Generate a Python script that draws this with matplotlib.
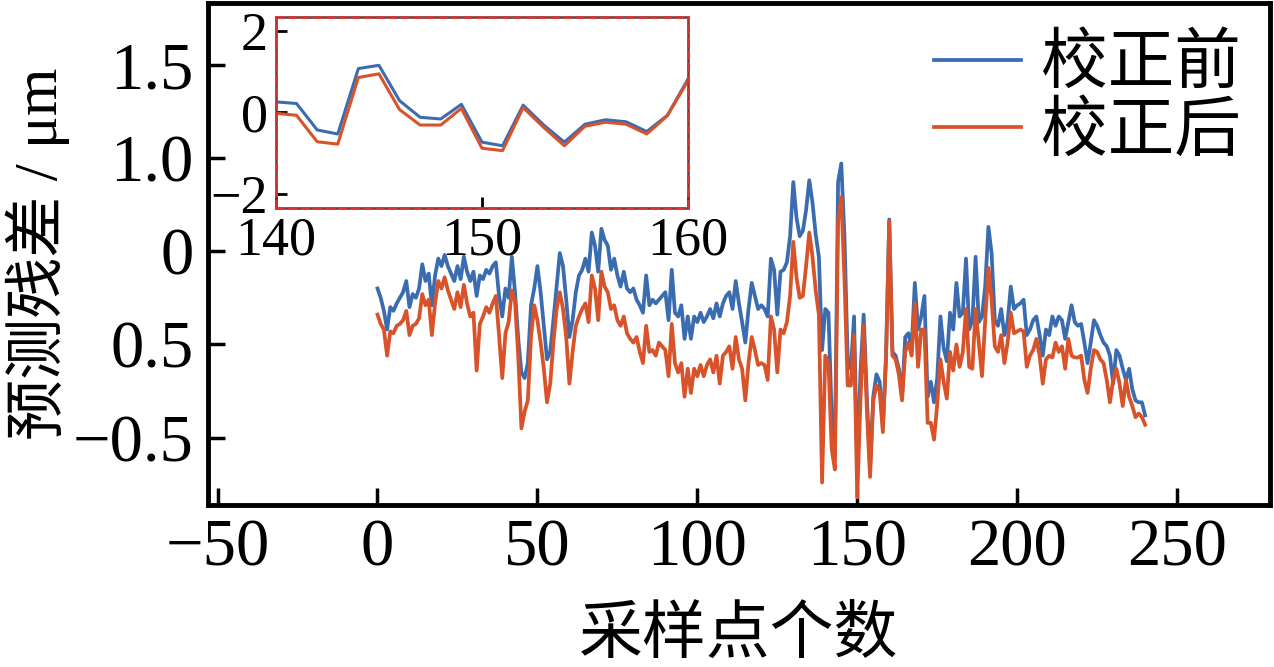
import numpy as np
import matplotlib
matplotlib.use("Agg")
from matplotlib import pyplot as plt
from matplotlib.patches import Rectangle

plt.rcParams['font.family'] = ['Liberation Serif', 'Noto Sans CJK SC', 'DejaVu Sans']
plt.rcParams['axes.unicode_minus'] = True

BLUE = '#3b6cb0'
ORANGE = '#d8522a'

# residuals, one value per sample (0..240)
before = [
    0.30, 0.25, 0.18, 0.08, 0.20, 0.18, 0.22, 0.25, 0.28, 0.34,
    0.20, 0.27, 0.25, 0.30, 0.43, 0.34, 0.38, 0.21, 0.37, 0.46,
    0.42, 0.48, 0.42, 0.38, 0.34, 0.42, 0.35, 0.47, 0.39, 0.34,
    0.39, 0.26, 0.37, 0.35, 0.40, 0.38, 0.42, 0.44, 0.26, 0.15,
    0.30, 0.25, 0.47, 0.28, 0.03, -0.15, -0.18, -0.10, 0.21, 0.30,
    0.42, 0.28, 0.10, -0.08, -0.04, 0.13, 0.31, 0.49, 0.42, 0.24,
    0.04, 0.13, 0.28, 0.37, 0.40, 0.46, 0.39, 0.60, 0.53, 0.39,
    0.62, 0.56, 0.53, 0.40, 0.46, 0.37, 0.31, 0.39, 0.30, 0.28,
    0.30, 0.24, 0.21, 0.17, 0.37, 0.21, 0.24, 0.22, 0.24, 0.26,
    0.28, 0.13, 0.40, 0.17, 0.15, 0.21, 0.03, 0.15, 0.03, 0.15,
    0.12, 0.17, 0.12, 0.15, 0.19, 0.14, 0.22, 0.15, 0.22, 0.26,
    0.28, 0.19, 0.34, 0.22, 0.12, 0.01, 0.19, 0.33, 0.26, 0.19,
    0.21, 0.19, 0.15, 0.46, 0.40, 0.16, 0.39, 0.40, 0.44, 0.58,
    0.87, 0.68, 0.58, 0.61, 0.72, 0.88, 0.76, 0.59, 0.47, -0.03,
    0.19, 0.17, -0.38, -0.60, 0.87, 0.97, 0.58, -0.08, -0.13, 0.15,
    -0.70, -0.15, 0.16, -0.28, -0.67, -0.28, -0.16, -0.20, -0.44, -0.06,
    0.67, -0.04, -0.06, -0.13, -0.28, 0.04, 0.06, -0.02, 0.33, 0.08,
    0.15, 0.26, -0.28, -0.20, -0.31, -0.18, 0.15, -0.02, -0.09, 0.17,
    0.08, 0.33, 0.15, 0.17, 0.46, 0.08, 0.13, 0.47, 0.12, 0.15,
    0.31, 0.63, 0.49, 0.13, 0.10, 0.19, 0.05, 0.12, 0.31, 0.19,
    0.21, 0.22, 0.24, 0.05, 0.08, 0.13, 0.15, 0.05, -0.06, 0.08,
    0.05, 0.15, 0.10, 0.15, 0.13, 0.03, 0.12, 0.21, 0.12, 0.10,
    0.11, 0.01, -0.10, 0.01, 0.13, 0.10, 0.05, 0.01, -0.01, -0.06,
    -0.21, -0.03, -0.06, -0.13, -0.19, -0.13, -0.24, -0.30, -0.31, -0.31,
    -0.38,
]
after = [
    0.16, 0.11, 0.08, -0.06, 0.07, 0.06, 0.10, 0.11, 0.13, 0.18,
    0.05, 0.10, 0.11, 0.14, 0.27, 0.21, 0.24, 0.05, 0.22, 0.34,
    0.30, 0.36, 0.29, 0.24, 0.19, 0.28, 0.20, 0.32, 0.22, 0.15,
    0.17, -0.14, 0.11, 0.15, 0.20, 0.17, 0.22, 0.26, 0.05, -0.18,
    0.06, 0.12, 0.29, 0.23, -0.06, -0.45, -0.36, -0.30, 0.04, 0.21,
    0.13, 0.01, -0.13, -0.31, -0.21, 0.01, 0.19, 0.28, 0.19, 0.04,
    -0.21, -0.04, 0.10, 0.15, 0.19, 0.22, 0.12, 0.37, 0.30, 0.13,
    0.39, 0.31, 0.28, 0.19, 0.21, 0.13, 0.10, 0.15, 0.06, 0.03,
    0.01, 0.04, -0.04, -0.10, 0.10, -0.04, -0.03, -0.06, 0.01, -0.01,
    -0.03, -0.17, 0.11, -0.10, -0.15, -0.10, -0.28, -0.13, -0.26, -0.13,
    -0.17, -0.11, -0.17, -0.11, -0.08, -0.15, -0.06, -0.21, -0.06, -0.04,
    -0.01, -0.13, 0.04, -0.08, -0.13, -0.30, -0.10, 0.04, -0.03, -0.11,
    -0.10, -0.11, -0.19, 0.15, 0.08, -0.15, 0.08, 0.06, 0.12, 0.26,
    0.55, 0.36, 0.25, 0.26, 0.42, 0.60, 0.47, 0.29, 0.16, -0.74,
    -0.06, -0.10, -0.56, -0.67, 0.66, 0.79, 0.35, -0.22, -0.22, 0.05,
    -0.82, -0.30, 0.10, -0.35, -0.71, -0.30, -0.22, -0.25, -0.47, -0.07,
    0.66, -0.06, -0.08, -0.16, -0.30, -0.04, 0.01, -0.06, 0.22, -0.12,
    0.08, 0.08, -0.42, -0.42, -0.51, -0.32, -0.08, -0.20, -0.29, -0.04,
    -0.14, 0.00, -0.12, -0.04, 0.19, -0.12, -0.13, 0.19, 0.01, -0.17,
    0.13, 0.41, 0.24, -0.01, -0.04, 0.05, -0.10, 0.01, 0.17, 0.06,
    0.07, 0.08, 0.07, -0.12, -0.06, -0.03, 0.03, -0.06, -0.21, -0.08,
    -0.06, -0.07, 0.01, -0.04, -0.01, -0.13, 0.03, -0.06, -0.07, -0.07,
    -0.06, -0.19, -0.26, -0.13, -0.03, -0.04, -0.08, -0.10, -0.19, -0.31,
    -0.19, -0.13, -0.21, -0.33, -0.19, -0.28, -0.33, -0.39, -0.37, -0.39,
    -0.43,
]
samples = np.arange(len(before))

# zoomed window 140..160
inset_x = np.arange(140, 161)
inset_before = [0.26, 0.22, -0.43, -0.53, 1.08, 1.16, 0.29, -0.12, -0.16, 0.20,
                -0.73, -0.82, 0.18, -0.31, -0.73, -0.29, -0.18, -0.23, -0.47, -0.07, 0.82]
inset_after = [-0.02, -0.07, -0.72, -0.78, 0.86, 0.95, 0.07, -0.31, -0.31, 0.10,
               -0.88, -0.94, 0.12, -0.37, -0.82, -0.34, -0.24, -0.29, -0.53, -0.08, 0.78]

xticks = [-50, 0, 50, 100, 150, 200, 250]
yticks = [1.5, 1.0, 0.5, 0.0, -0.5]
ytick_labels = ['1.5', '1.0', '0', '0.5', '\u22120.5']
inset_xticks = [140, 150, 160]
inset_yticks = [-2, 0, 2]

fig = plt.figure(figsize=(12.74, 6.67), dpi=100)
ax = fig.add_axes([0.163, 0.243, 0.834, 0.7525])
ax.plot(samples, before, color=BLUE, lw=2.7, label='校正前')
ax.plot(samples, after, color=ORANGE, lw=2.7, label='校正后')
ax.set_xlim(-53.1, 279.1)
ax.set_ylim(-0.86, 1.83)
ax.set_xticks(xticks)
ax.set_yticks(yticks)
ax.set_yticklabels(ytick_labels)
ax.tick_params(direction='in', length=12, width=2.5, labelsize=48)
ax.tick_params(axis='x', pad=10)
ax.tick_params(axis='y', pad=10)
for s in ax.spines.values():
    s.set_linewidth(3.5)
ax.set_xlabel('采样点个数', fontsize=46, labelpad=20)
ax.set_ylabel('预测残差 / μm', fontsize=44, labelpad=2)
ax.legend(loc='upper right', bbox_to_anchor=(1.01, 1.015), frameon=False,
          fontsize=48, handlelength=1.3, handletextpad=0.3, labelspacing=0.08,
          borderaxespad=0.2)

ax_in = fig.add_axes([0.2166, 0.6882, 0.3234, 0.2864])
ax_in.plot(inset_x, inset_before, color=BLUE, lw=2.2)
ax_in.plot(inset_x, inset_after, color=ORANGE, lw=2.2)
ax_in.set_xlim(140, 160)
ax_in.set_ylim(-2.35, 2.35)
ax_in.set_xticks(inset_xticks)
ax_in.set_yticks(inset_yticks)
ax_in.tick_params(direction='in', length=8, width=2, labelsize=39, pad=6)
for s in ax_in.spines.values():
    s.set_color('#e03030')
    s.set_linestyle((0, (3, 2)))
    s.set_linewidth(1.8)
    s.set_zorder(3)
ax_in.add_patch(Rectangle((0, 0), 1, 1, transform=ax_in.transAxes, fill=False,
                          ec='#444444', lw=1.8, clip_on=False, zorder=2.9))

fig.savefig('out.png', dpi=100)
